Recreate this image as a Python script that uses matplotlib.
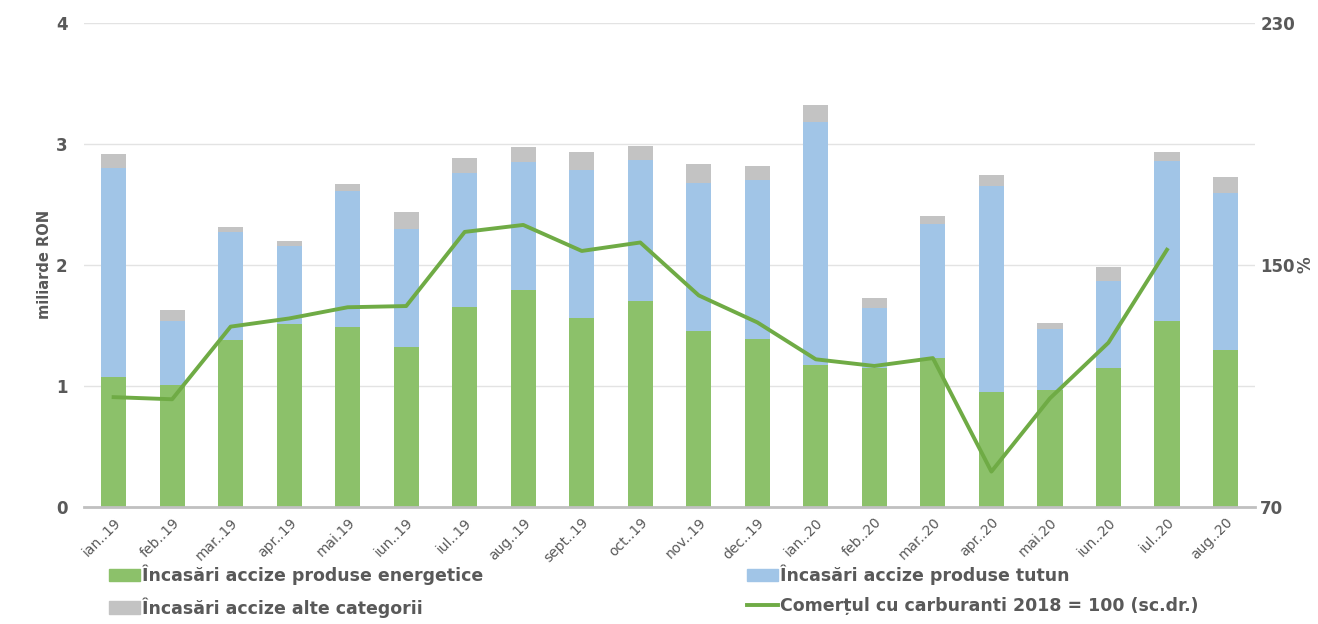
import numpy as np
import matplotlib.pyplot as plt
from matplotlib.patches import Patch
from matplotlib.lines import Line2D

luni = ['ian..19', 'feb..19', 'mar..19', 'apr..19', 'mai.19', 'iun..19', 'iul..19',
        'aug..19', 'sept..19', 'oct..19', 'nov..19', 'dec..19', 'ian..20', 'feb..20',
        'mar..20', 'apr..20', 'mai.20', 'iun..20', 'iul..20', 'aug..20']

# valori (miliarde RON)
energetice = [1.07, 1.01, 1.38, 1.51, 1.49, 1.32, 1.65, 1.79, 1.56, 1.70,
              1.45, 1.39, 1.17, 1.15, 1.23, 0.95, 0.97, 1.15, 1.54, 1.30]
tutun = [1.73, 0.53, 0.89, 0.65, 1.12, 0.98, 1.11, 1.06, 1.22, 1.17,
         1.23, 1.31, 2.01, 0.49, 1.11, 1.70, 0.50, 0.72, 1.32, 1.29]
alte = [0.12, 0.09, 0.04, 0.04, 0.06, 0.14, 0.12, 0.12, 0.15, 0.11,
        0.15, 0.12, 0.14, 0.09, 0.06, 0.09, 0.05, 0.11, 0.07, 0.14]
# comertul cu carburanti, 2018 = 100 (scala dreapta)
carburanti = [106.3, 105.6, 129.6, 132.3, 136.0, 136.4, 160.9, 163.2, 154.6, 157.4,
              139.9, 131.0, 118.8, 116.6, 119.2, 81.7, 105.9, 124.3, 155.0, np.nan]

verde = '#8cc16a'
albastru = '#a1c5e7'
gri = '#c3c3c3'
linie = '#6fab45'
text = '#595959'

x = np.arange(len(luni))
energetice = np.array(energetice)
tutun = np.array(tutun)
alte = np.array(alte)

fig = plt.figure(figsize=(13.18, 6.24), dpi=100)
ax = fig.add_axes([0.064, 0.1875, 0.888, 0.776])

w = 0.43
ax.bar(x, energetice, w, color=verde, zorder=2)
ax.bar(x, tutun, w, bottom=energetice, color=albastru, zorder=2)
ax.bar(x, alte, w, bottom=energetice + tutun, color=gri, zorder=2)

ax.set_xlim(-0.5, len(luni) - 0.5)
ax.set_ylim(0, 4)
ax.set_yticks([0, 1, 2, 3, 4])
ax.yaxis.grid(True, color='#e3e3e3', linewidth=1, zorder=0)
ax.set_axisbelow(True)
for s in ['top', 'right', 'left']:
    ax.spines[s].set_visible(False)
ax.spines['bottom'].set_color('#c0c0c0')
ax.spines['bottom'].set_linewidth(2)
ax.tick_params(axis='y', length=0, pad=12, labelsize=12, labelcolor=text)
for t in ax.get_yticklabels():
    t.set_fontweight('bold')
ax.set_xticks(x)
ax.set_xticklabels(luni, rotation=45, ha='right', rotation_mode='anchor',
                   fontsize=10, color=text)
ax.tick_params(axis='x', length=0, pad=6)
ax.set_ylabel('miliarde RON', fontsize=10.5, fontweight='bold', color=text, labelpad=3)

ax2 = ax.twinx()
ax2.plot(x, carburanti, color=linie, linewidth=2.8, zorder=3)
ax2.set_ylim(70, 230)
ax2.set_yticks([70, 150, 230])
for s in ax2.spines.values():
    s.set_visible(False)
ax2.tick_params(axis='y', length=0, pad=4, labelsize=12, labelcolor=text)
for t in ax2.get_yticklabels():
    t.set_fontweight('bold')
ax2.set_ylabel('%', fontsize=12, fontweight='bold', color=text, labelpad=1)

handles = [Patch(color=verde), Patch(color=gri), Patch(color=albastru),
           Line2D([], [], color=linie, linewidth=2.8)]
labels = ['Încasări accize produse energetice', 'Încasări accize alte categorii',
          'Încasări accize produse tutun', 'Comerțul cu carburanti 2018 = 100 (sc.dr.)']
leg = fig.legend(handles, labels, ncol=2, loc='lower left', bbox_to_anchor=(0.071, -0.015),
                 frameon=False, handlelength=1.75, handleheight=0.75, handletextpad=0.15,
                 columnspacing=15.2, labelspacing=0.7,
                 prop={'size': 12.5, 'weight': 'bold'})
for t in leg.get_texts():
    t.set_color(text)

fig.savefig('out.png', dpi=100)
